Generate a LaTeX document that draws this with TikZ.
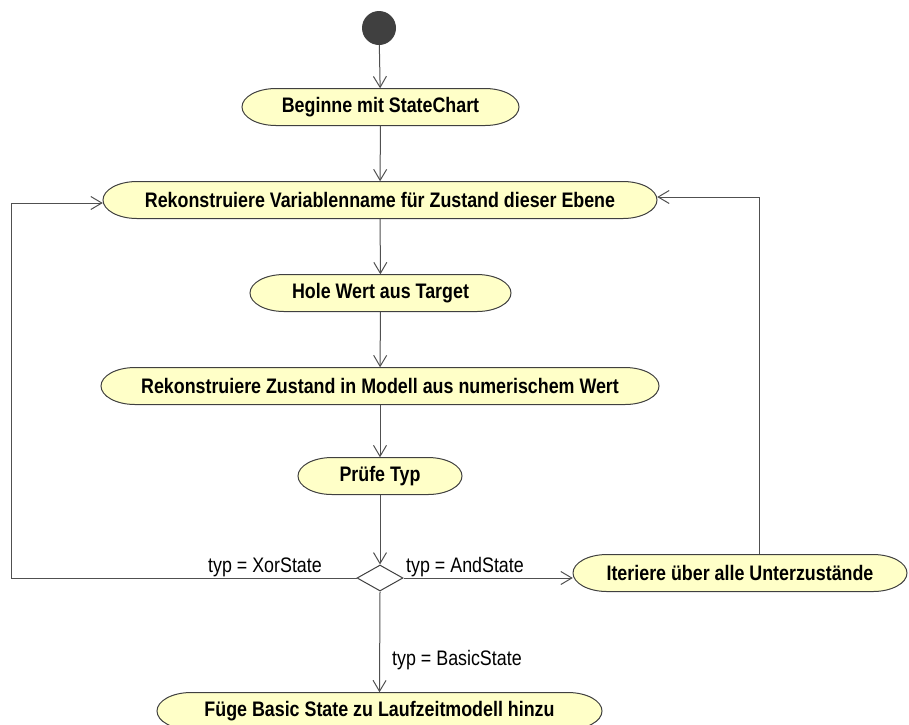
\documentclass[tikz,border=0pt]{standalone}
\usepackage{fontspec}
\setmainfont{Liberation Sans}[FakeStretch=0.85]
\usetikzlibrary{arrows.meta,shapes.geometric,calc}

\definecolor{actfill}{RGB}{255,255,200}
\definecolor{actline}{RGB}{64,64,64}
\definecolor{flowline}{RGB}{80,80,80}

% activity: stadium with elliptical ends, drawn under an invisible node
% #1 name, #2 x, #3 y, #4 width, #5 text
\newcommand\activity[5]{%
  \path[fill=actfill,draw=actline,line width=1pt]
    ({#2-#4/2+34},{#3+18.5}) -- ({#2+#4/2-34},{#3+18.5})
    arc[start angle=90,end angle=-90,x radius=34,y radius=18.5]
    -- ({#2-#4/2+34},{#3-18.5})
    arc[start angle=270,end angle=90,x radius=34,y radius=18.5] -- cycle;
  \node[acttext,minimum width=#4,minimum height=37] (#1) at (#2,#3) {#5};
}

\tikzset{
  x=1pt,y=1pt,
  acttext/.style={inner sep=0pt,font=\fontsize{21}{24}\selectfont\bfseries},
  guard/.style={inner sep=0pt,font=\fontsize{21}{24}\selectfont},
  flow/.style={draw=flowline,line width=1pt,
    -{Straight Barb[length=11pt,width=13pt,line width=1pt]}},
  decision/.style={diamond,draw=actline,fill=white,line width=1pt,
    minimum width=46,minimum height=26,inner sep=0pt},
  startdot/.style={circle,fill=actline,minimum size=34,inner sep=0pt}
}

\begin{document}
\begin{tikzpicture}
\useasboundingbox (0,0) rectangle (909,-724);

\node[startdot] (start) at (379,-28) {};

\activity{begin}{380.5}{-107}{277}{Beginne mit StateChart}
\activity{varname}{380}{-200}{554}{Rekonstruiere Variablenname für Zustand dieser Ebene}
\activity{fetch}{380.5}{-293}{261}{Hole Wert aus Target}
\activity{rebuild}{380}{-386}{558}{Rekonstruiere Zustand in Modell aus numerischem Wert}
\activity{check}{380}{-476}{164}{Prüfe Typ}
\activity{iterate}{740}{-573}{334}{Iteriere über alle Unterzustände}
\activity{addbasic}{379.5}{-711}{445}{Füge Basic State zu Laufzeitmodell hinzu}

\node[decision] (dec) at (380,-578) {};

\coordinate (loopL) at (11,-203);
\coordinate (loopR) at (759,-197);

\draw[flow] (start) -- (begin);
\draw[flow] (begin) -- (varname);
\draw[flow] (varname) -- (fetch);
\draw[flow] (fetch) -- (rebuild);
\draw[flow] (rebuild) -- (check);
\draw[flow] (check) -- (dec);

\draw[flow] (dec.west) -| (loopL) -- (varname.west |- loopL);
\draw[flow] (dec.east) -- (iterate.west |- dec.east);
\draw[flow] (iterate.north -| loopR) -- (loopR) -- (varname.east |- loopR);
\draw[flow] (dec.south) -- (addbasic.north);

\node[guard,anchor=base east] (lxor) at (322,-572) {typ = XorState};
\node[guard,anchor=base west] (land) at (406,-572) {typ = AndState};
\node[guard,anchor=base west] (lbasic) at (392,-665) {typ = BasicState};
\end{tikzpicture}
\end{document}
